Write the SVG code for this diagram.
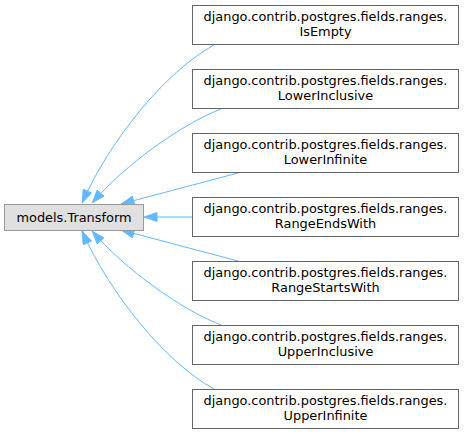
<svg xmlns="http://www.w3.org/2000/svg" width="464" height="435" viewBox="0 0 464 435">
<style>
text{font-family:"DejaVu Sans","Liberation Sans",sans-serif;font-size:12.9px;text-anchor:middle;fill:#000}
.n rect{fill:#fff;stroke:#666;stroke-width:1}
.base rect{fill:#e0e0e0;stroke:#999;stroke-width:1}
.e path{fill:none;stroke:#63b8ff;stroke-width:1;marker-start:url(#a)}
</style>
<defs>
<marker id="a" markerUnits="userSpaceOnUse" markerWidth="14" markerHeight="10" refX="0" refY="5" orient="auto">
<path d="M0.5,5 L13,0.5 L13,9.5 z" fill="#63b8ff" stroke="#63b8ff"/>
</marker>
</defs>
<g class="e" id="edges">
<path d="M82,203 C110,140 165,72 214,45"/>
<path d="M92,203 C125,165 180,125 221,109"/>
<path d="M121,204 L238,173"/>
<path d="M144,217 L192,217"/>
<path d="M121,230 L238,261"/>
<path d="M92,231 C125,269 180,309 221,325"/>
<path d="M82,231 C110,294 165,362 214,389"/>
</g>
<g class="base" id="models_Transform">
<rect x="4.5" y="204.5" width="139" height="26"/>
<text x="74" y="222">models.Transform</text>
</g>
<g class="n" id="IsEmpty">
<rect x="192.5" y="5.5" width="266" height="39"/>
<text x="325.5" y="21">django.contrib.postgres.fields.ranges.</text>
<text x="325.5" y="36">IsEmpty</text>
</g>
<g class="n" id="LowerInclusive">
<rect x="192.5" y="69.5" width="266" height="39"/>
<text x="325.5" y="85">django.contrib.postgres.fields.ranges.</text>
<text x="325.5" y="100">LowerInclusive</text>
</g>
<g class="n" id="LowerInfinite">
<rect x="192.5" y="133.5" width="266" height="39"/>
<text x="325.5" y="149">django.contrib.postgres.fields.ranges.</text>
<text x="325.5" y="164">LowerInfinite</text>
</g>
<g class="n" id="RangeEndsWith">
<rect x="192.5" y="197.5" width="266" height="39"/>
<text x="325.5" y="213">django.contrib.postgres.fields.ranges.</text>
<text x="325.5" y="228">RangeEndsWith</text>
</g>
<g class="n" id="RangeStartsWith">
<rect x="192.5" y="261.5" width="266" height="39"/>
<text x="325.5" y="277">django.contrib.postgres.fields.ranges.</text>
<text x="325.5" y="292">RangeStartsWith</text>
</g>
<g class="n" id="UpperInclusive">
<rect x="192.5" y="325.5" width="266" height="39"/>
<text x="325.5" y="341">django.contrib.postgres.fields.ranges.</text>
<text x="325.5" y="356">UpperInclusive</text>
</g>
<g class="n" id="UpperInfinite">
<rect x="192.5" y="389.5" width="266" height="39"/>
<text x="325.5" y="405">django.contrib.postgres.fields.ranges.</text>
<text x="325.5" y="420">UpperInfinite</text>
</g>
</svg>
